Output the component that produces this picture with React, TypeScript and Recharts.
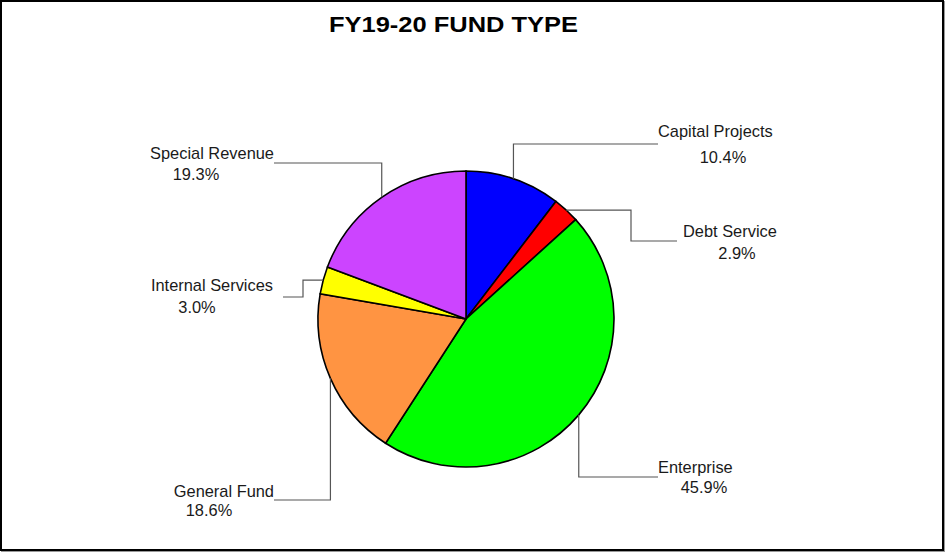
import { Cell, Pie, PieChart } from 'recharts';

const categories = ['Capital Projects', 'Debt Service', 'Enterprise', 'General Fund', 'Internal Services', 'Special Revenue'];
const shares = [10.4, 2.9, 45.9, 18.6, 3.0, 19.3];
const colors = ['#0000FF', '#FF0000', '#00FF00', '#FF9442', '#FFFF00', '#CC44FF'];

const data = categories.map((name, i) => ({ name, value: shares[i] }));

// leader/label placement per slice (elbow type, elbow points, text anchors)
type LabelLayout = {
  kind: 'v' | 'h';
  mx?: number;
  ty: number;
  tx: number;
  nameX: number;
  nameY: number;
  anchor: 'start' | 'end';
  pctX: number;
  pctY: number;
};

const labelLayout: LabelLayout[] = [
  { kind: 'v', ty: 144, tx: 658, nameX: 658, nameY: 137, anchor: 'start', pctX: 723, pctY: 163 },
  { kind: 'h', mx: 631, ty: 241, tx: 677, nameX: 683, nameY: 237, anchor: 'start', pctX: 737, pctY: 259 },
  { kind: 'v', ty: 477, tx: 658, nameX: 658, nameY: 473, anchor: 'start', pctX: 704, pctY: 493 },
  { kind: 'v', ty: 500, tx: 274, nameX: 274, nameY: 497, anchor: 'end', pctX: 209, pctY: 516 },
  { kind: 'h', mx: 303, ty: 297, tx: 283, nameX: 273, nameY: 291, anchor: 'end', pctX: 197, pctY: 313 },
  { kind: 'v', ty: 163, tx: 274, nameX: 274, nameY: 159, anchor: 'end', pctX: 196, pctY: 180 },
];

const FONT = '"Liberation Sans", Arial, sans-serif';
const RAD = Math.PI / 180;

function renderLabel(props: any) {
  const { cx, cy, midAngle, outerRadius, index } = props;
  const l = labelLayout[index];
  const sx = cx + outerRadius * Math.cos(-midAngle * RAD);
  const sy = cy + outerRadius * Math.sin(-midAngle * RAD);
  const pts =
    l.kind === 'v'
      ? [[sx, sy], [sx, l.ty], [l.tx, l.ty]]
      : [[sx, sy], [l.mx!, sy], [l.mx!, l.ty], [l.tx, l.ty]];
  return (
    <g key={`lbl-${index}`}>
      <polyline points={pts.map((p) => p.join(',')).join(' ')} fill="none" stroke="#555" strokeWidth={1.2} />
      <text x={l.nameX} y={l.nameY} textAnchor={l.anchor} fontSize={16.4} fontFamily={FONT} fill="#1a1a1a">
        {categories[index]}
      </text>
      <text x={l.pctX} y={l.pctY} textAnchor="middle" fontSize={16.4} fontFamily={FONT} fill="#1a1a1a">
        {shares[index].toFixed(1)}%
      </text>
    </g>
  );
}

export default function App() {
  return (
    <div style={{ position: 'absolute', left: 0, top: 0, width: 946, height: 552, background: '#fff' }}>
      <style>{'body{margin:0}'}</style>
      <div
        style={{
          position: 'absolute',
          left: 0,
          top: 0,
          width: 944,
          height: 551,
          border: '2px solid #000',
          boxSizing: 'border-box',
          boxShadow: '1px 1px 0 #999',
        }}
      />
      <div style={{ position: 'absolute', left: 0, top: 0 }}>
        <PieChart width={946} height={552} margin={{ top: 0, right: 0, bottom: 0, left: 0 }}>
          <Pie
            data={data}
            dataKey="value"
            nameKey="name"
            cx={466}
            cy={319}
            outerRadius={148}
            startAngle={90}
            endAngle={-270}
            stroke="#000"
            strokeWidth={1.6}
            label={renderLabel}
            labelLine={false}
            isAnimationActive={false}
          >
            {data.map((d, i) => (
              <Cell key={d.name} fill={colors[i]} />
            ))}
          </Pie>
        </PieChart>
      </div>
      <svg width={946} height={60} style={{ position: 'absolute', left: 0, top: 0, pointerEvents: 'none' }}>
        <text x={453.5} y={32} textAnchor="middle" fontSize={22} fontWeight="bold" fontFamily={FONT} fill="#000" textLength={249} lengthAdjust="spacingAndGlyphs">
          FY19-20 FUND TYPE
        </text>
      </svg>
    </div>
  );
}
